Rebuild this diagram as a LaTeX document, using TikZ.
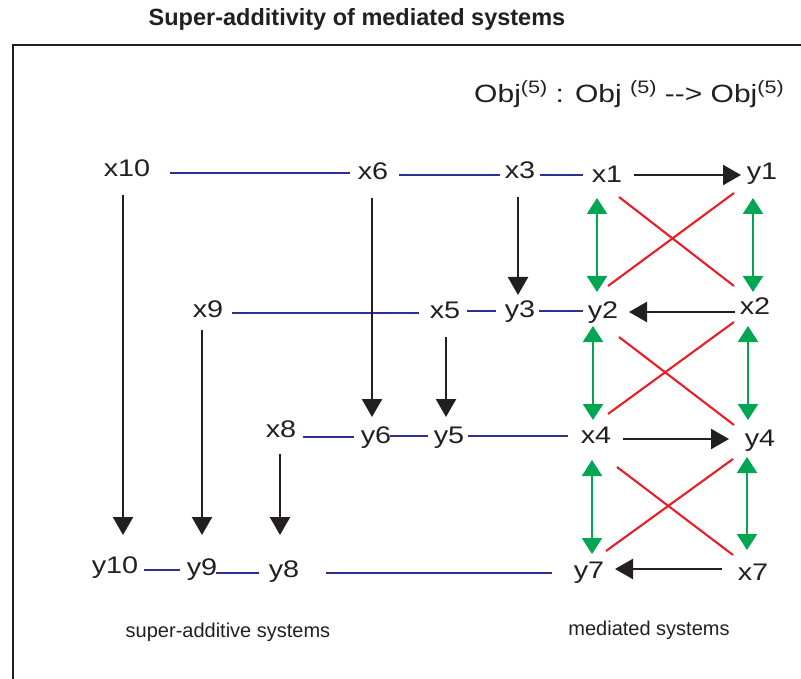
\documentclass[tikz,border=0pt]{standalone}
\usepackage{fontspec}
\setmainfont{Liberation Sans}
\newfontfamily\widesans[FakeStretch=1.2]{Liberation Sans}
\usetikzlibrary{arrows.meta}
\definecolor{ink}{HTML}{231F20}
\definecolor{lblue}{HTML}{2E3192}
\definecolor{lgreen}{HTML}{00A651}
\definecolor{lred}{HTML}{ED1C24}
\begin{document}
\begin{tikzpicture}[x=1pt,y=-1pt,
  lbl/.style={anchor=base,inner sep=0pt,text=ink,font=\widesans\fontsize{24}{28}\selectfont},
  bluelink/.style={draw=lblue,line width=2.4pt},
  blackarr/.style={draw=ink,line width=2.5pt,-{Triangle[length=18pt,width=20pt]}},
  greenarr/.style={draw=lgreen,line width=2.3pt,{Triangle[length=16pt,width=20pt]}-{Triangle[length=16pt,width=20pt]}},
  redlink/.style={draw=lred,line width=2.1pt},
  caption/.style={inner sep=0pt,text=ink,font=\fontsize{20}{24}\selectfont}]
\useasboundingbox (0,0) rectangle (801,679);
\draw[ink,line width=2.5pt] (13,679) -- (13,45) -- (801,45);
\node[inner sep=0pt,text=ink,font=\bfseries\fontsize{23.5}{27}\selectfont] (title) at (357,19) {Super-additivity of mediated systems};
\node[anchor=base,inner sep=0pt,text=ink,font=\widesans\fontsize{25}{29}\selectfont] (obj) at (629,103) {Obj\raisebox{9pt}{\fontsize{18}{20}\selectfont(5)} : Obj \raisebox{9pt}{\fontsize{18}{20}\selectfont(5)} -{}-{}> Obj\raisebox{9pt}{\fontsize{18}{20}\selectfont(5)}};
% nodes
\node[lbl] (x10) at (127,177) {x10};
\node[lbl] (x6) at (373,180) {x6};
\node[lbl] (x3) at (520,179) {x3};
\node[lbl] (x1) at (607,183) {x1};
\node[lbl] (y1) at (762,180) {y1};
\node[lbl] (x9) at (208,317) {x9};
\node[lbl] (x5) at (445,319) {x5};
\node[lbl] (y3) at (520,317) {y3};
\node[lbl] (y2) at (603,318) {y2};
\node[lbl] (x2) at (755,315) {x2};
\node[lbl] (x8) at (281,437) {x8};
\node[lbl] (y6) at (376,443) {y6};
\node[lbl] (y5) at (449,443) {y5};
\node[lbl] (x4) at (596,443) {x4};
\node[lbl] (y4) at (760,446) {y4};
\node[lbl] (y10) at (115,573) {y10};
\node[lbl] (y9) at (202,575) {y9};
\node[lbl] (y8) at (284,577) {y8};
\node[lbl] (y7) at (589,578) {y7};
\node[lbl] (x7) at (753,580) {x7};
\node[caption] (cap1) at (228,632) {super-additive systems};
\node[caption] (cap2) at (649,630) {mediated systems};
% blue links
\draw[bluelink] ([shift={(43,-4)}]x10.base) -- ([shift={(-23,-7)}]x6.base);
\draw[bluelink] ([shift={(26,-5)}]x6.base) -- ([shift={(-20,-4)}]x3.base);
\draw[bluelink] ([shift={(20,-4)}]x3.base) -- ([shift={(-24,-8)}]x1.base);
\draw[bluelink] ([shift={(24,-4)}]x9.base) -- ([shift={(-26,-6)}]x5.base);
\draw[bluelink] ([shift={(22,-8)}]x5.base) -- ([shift={(-24,-6)}]y3.base);
\draw[bluelink] ([shift={(19,-6)}]y3.base) -- ([shift={(-20,-7)}]y2.base);
\draw[bluelink] ([shift={(22,0)}]x8.base) -- ([shift={(-22,-6)}]y6.base);
\draw[bluelink] ([shift={(14,-7)}]y6.base) -- ([shift={(-21,-7)}]y5.base);
\draw[bluelink] ([shift={(19,-7)}]y5.base) -- ([shift={(-28,-7)}]x4.base);
\draw[bluelink] ([shift={(29,-3)}]y10.base) -- ([shift={(-22,-5)}]y9.base);
\draw[bluelink] ([shift={(14,-2)}]y9.base) -- ([shift={(-25,-4)}]y8.base);
\draw[bluelink] ([shift={(42,-4)}]y8.base) -- ([shift={(-37,-5)}]y7.base);
% black vertical arrows
\draw[blackarr] ([shift={(-4,18)}]x10.base) -- ([shift={(8,-38)}]y10.base);
\draw[blackarr] ([shift={(-6,13)}]x9.base) -- ([shift={(0,-40)}]y9.base);
\draw[blackarr] ([shift={(-1,17)}]x8.base) -- ([shift={(-4,-42)}]y8.base);
\draw[blackarr] ([shift={(-1,18)}]x6.base) -- ([shift={(-4,-26)}]y6.base);
\draw[blackarr] ([shift={(1,18)}]x5.base) -- ([shift={(-3,-26)}]y5.base);
\draw[blackarr] ([shift={(-2,18)}]x3.base) -- ([shift={(-2,-22)}]y3.base);
% black horizontal arrows
\draw[blackarr] ([shift={(27,-8)}]x1.base) -- ([shift={(-21,-5)}]y1.base);
\draw[blackarr] ([shift={(-20,-3)}]x2.base) -- ([shift={(26,-6)}]y2.base);
\draw[blackarr] ([shift={(27,-4)}]x4.base) -- ([shift={(-31,-7)}]y4.base);
\draw[blackarr] ([shift={(-31,-11)}]x7.base) -- ([shift={(26,-9)}]y7.base);
% green double arrows
\draw[greenarr] ([shift={(-10,15)}]x1.base) -- ([shift={(-6,-26)}]y2.base);
\draw[greenarr] ([shift={(-9,18)}]y1.base) -- ([shift={(-2,-23)}]x2.base);
\draw[greenarr] ([shift={(-10,8)}]y2.base) -- ([shift={(-3,-23)}]x4.base);
\draw[greenarr] ([shift={(-7,11)}]x2.base) -- ([shift={(-12,-26)}]y4.base);
\draw[greenarr] ([shift={(-4,17)}]x4.base) -- ([shift={(3,-24)}]y7.base);
\draw[greenarr] ([shift={(-13,11)}]y4.base) -- ([shift={(-6,-30)}]x7.base);
% red crossings
\draw[redlink] ([shift={(12,14)}]x1.base) -- ([shift={(-21,-29)}]x2.base);
\draw[redlink] ([shift={(-28,13)}]y1.base) -- ([shift={(5,-32)}]y2.base);
\draw[redlink] ([shift={(16,19)}]y2.base) -- ([shift={(-26,-21)}]y4.base);
\draw[redlink] ([shift={(-21,7)}]x2.base) -- ([shift={(12,-29)}]x4.base);
\draw[redlink] ([shift={(21,24)}]x4.base) -- ([shift={(-20,-25)}]x7.base);
\draw[redlink] ([shift={(-27,13)}]y4.base) -- ([shift={(17,-27)}]y7.base);
\end{tikzpicture}
\end{document}
